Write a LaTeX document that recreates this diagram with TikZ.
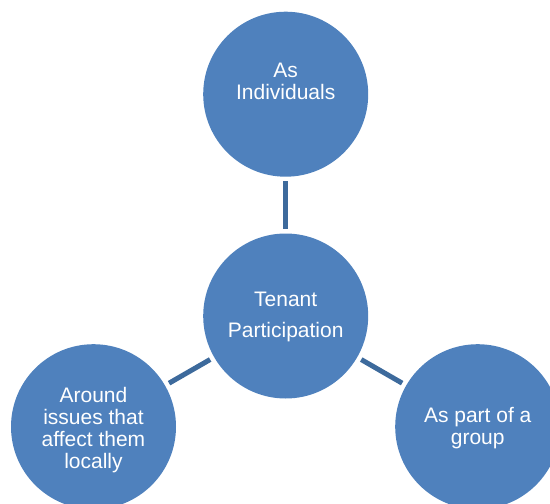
\documentclass[tikz,border=0pt]{standalone}
\usepackage{fontspec}
\setmainfont{Liberation Sans}
\definecolor{circfill}{HTML}{4F81BD}
\definecolor{linkcol}{HTML}{3D6A9C}
\begin{document}
\begin{tikzpicture}[x=1pt,y=-1pt,
  bubble/.style={circle,fill=circfill,draw=none,minimum size=165pt,inner sep=0pt},
  label/.style={text=white,align=center,anchor=north,inner sep=0pt,font=\fontsize{21}{22}\selectfont},
  link/.style={draw=linkcol,line width=5pt,shorten >=4.5pt,shorten <=4.5pt}]
\useasboundingbox (0,0) rectangle (550,504);
\node[bubble] (top) at (285.7,94.2) {};
\node[bubble] (mid) at (285.7,316) {};
\node[bubble] (left) at (93.5,426.7) {};
\node[bubble] (right) at (477.7,426.7) {};
\draw[link] (top) -- (mid);
\draw[link] (mid) -- (left);
\draw[link] (mid) -- (right);
\node[label] (toptext) at (285.7,63) {As\\Individuals};
\node[label,font=\fontsize{21}{31}\selectfont] (midtext) at (285.7,291.7) {Tenant\\Participation};
\node[label] (lefttext) at (93.5,387) {Around\\issues that\\affect them\\locally};
\node[label] (righttext) at (477.7,407) {As part of a\\group};
\end{tikzpicture}
\end{document}
